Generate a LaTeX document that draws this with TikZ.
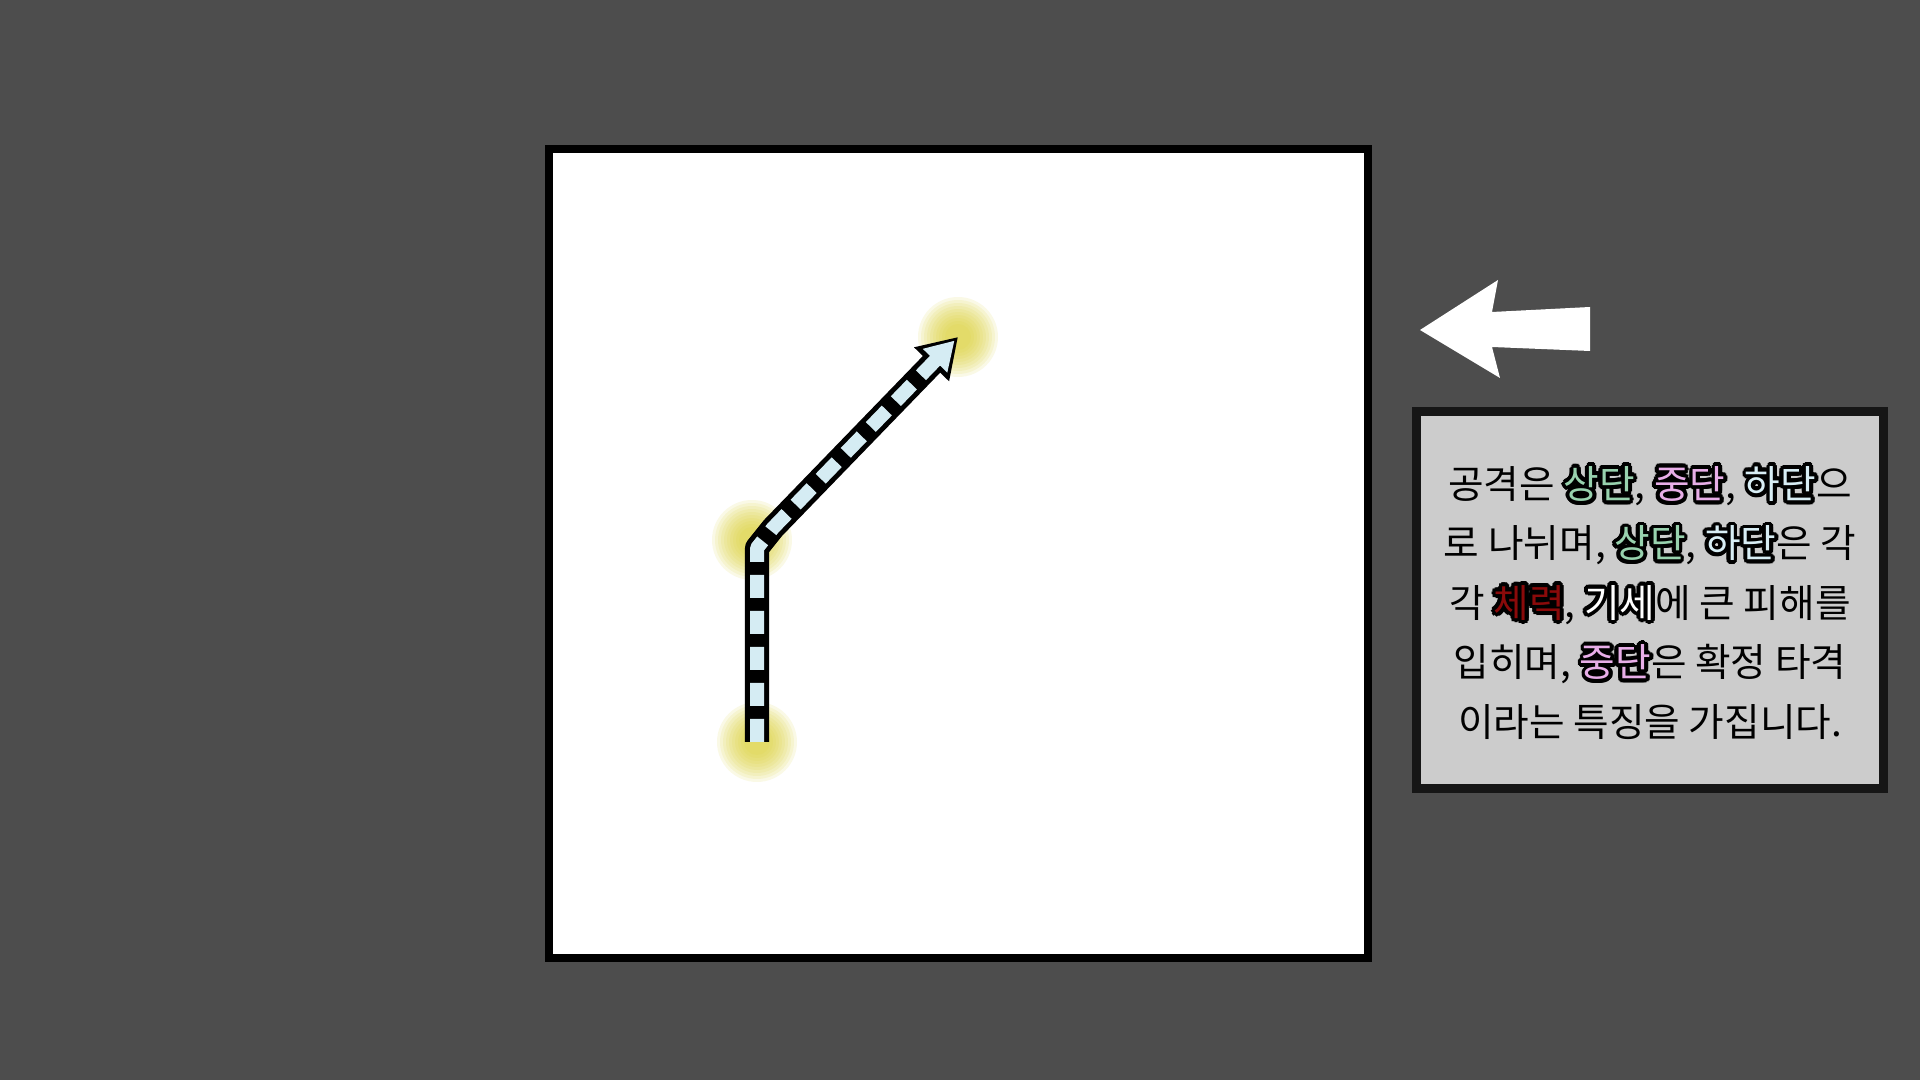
\documentclass[tikz,border=0pt]{standalone}
\usepackage{fontspec}
\newfontfamily\krfont{Noto Sans CJK KR}
\usepackage{contour}
\contourlength{1.1pt}
\usetikzlibrary{arrows.meta}
\definecolor{bgGray}{HTML}{4D4D4D}
\definecolor{noteGray}{HTML}{CCCCCC}
\definecolor{noteEdge}{HTML}{161616}
\definecolor{trailBlue}{HTML}{D5ECF3}
\definecolor{glowYellow}{HTML}{DCD235}
\definecolor{upGreen}{HTML}{98D2AE}
\definecolor{midPink}{HTML}{E8AEE8}
\definecolor{lowBlue}{HTML}{D8EEF5}
\definecolor{hpRed}{HTML}{8A0A0A}
\newcommand{\kw}[2]{\textcolor{#1}{\contour{black}{#2}}}
\tikzset{
  board/.style={rectangle,draw=black,fill=white,line width=0.08cm,minimum width=8.19cm,minimum height=8.09cm},
  notebox/.style={rectangle,draw=noteEdge,fill=noteGray,line width=0.09cm,minimum width=4.66cm,minimum height=3.76cm},
  glowring/.style={fill=glowYellow,fill opacity=0.12},
  trail outer/.style={black,line width=0.24cm,line join=round,-{Triangle[length=0.38cm,width=0.46cm]}},
  trail inner/.style={trailBlue,line width=0.14cm,line join=round,dash pattern=on 0.23cm off 0.13cm,shorten >=0.05cm,-{Triangle[length=0.28cm,width=0.32cm]}}
}
\begin{document}
\begin{tikzpicture}[x=0.01cm,y=-0.01cm]
\fill[bgGray] (0,0) rectangle (1920,1080);
\begin{scope}
\node (B) at (958.5,553.5) [board] {};
\coordinate (G1) at (757,742);
\coordinate (G2) at (752,540);
\coordinate (G3) at (958,337);
\foreach \g in {G1,G2,G3}
  \foreach \r in {40,37,...,13}
    \fill[glowring] (\g) circle (\r);
\coordinate (P1) at (757,548);
\coordinate (P2) at (773,528);
\draw[trail outer] (G1) -- (P1) -- (P2) -- (G3);
\draw[trail inner] (G1) -- (P1) -- (P2) -- (G3);
\end{scope}
\begin{scope}
\fill[white] (1420,330) -- (1498,280) -- (1492,312) -- (1590,307) -- (1590,351) -- (1492,347) -- (1500,378) -- cycle;
\node (N) at (1650,600) [notebox] {};
\node (T) at (1650,603) [align=center,font=\krfont\fontsize{11pt}{16.9pt}\selectfont] {공격은 \kw{upGreen}{상단}, \kw{midPink}{중단}, \kw{lowBlue}{하단}으\\ 로 나뉘며, \kw{upGreen}{상단}, \kw{lowBlue}{하단}은 각\\ 각 \kw{hpRed}{체력}, \kw{white}{기세}에 큰 피해를\\ 입히며, \kw{midPink}{중단}은 확정 타격\\ 이라는 특징을 가집니다.};
\end{scope}
\end{tikzpicture}
\end{document}
